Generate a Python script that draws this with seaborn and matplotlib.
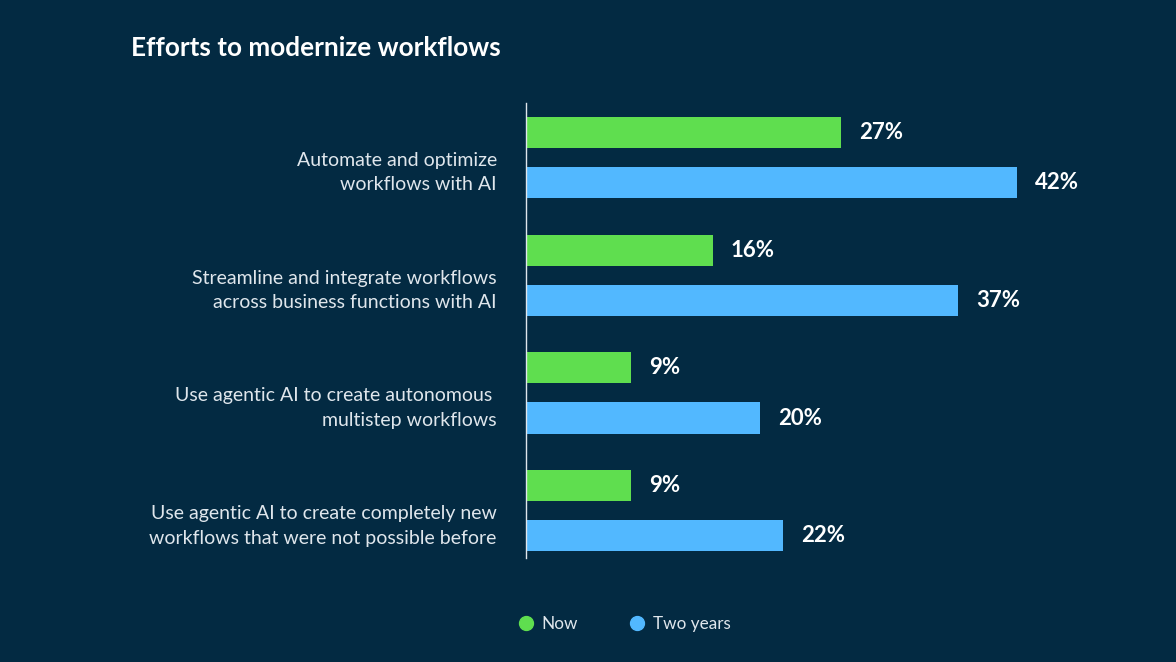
import pandas as pd
import seaborn as sns
import matplotlib.pyplot as plt
from matplotlib.lines import Line2D
from matplotlib.transforms import ScaledTranslation

# chart values
categories = [
    "Automate and optimize\nworkflows with AI",
    "Streamline and integrate workflows\nacross business functions with AI",
    "Use agentic AI to create autonomous \nmultistep workflows",
    "Use agentic AI to create completely new\nworkflows that were not possible before",
]
now = [27, 16, 9, 9]
two_years = [42, 37, 20, 22]
series = ["Now", "Two years"]

bg = "#032a42"
green = "#5fde4f"
blue = "#52b8ff"

df = pd.DataFrame({
    "category": categories * 2,
    "value": now + two_years,
    "series": [series[0]] * 4 + [series[1]] * 4,
})

sns.set_theme(style="white")
plt.rcParams["font.family"] = ["Lato", "DejaVu Sans"]

fig = plt.figure(figsize=(11.76, 6.62), dpi=100, facecolor=bg)
ax = fig.add_axes([0.4473, 0.1571, 0.5017, 0.6873])
ax.set_facecolor(bg)

sns.barplot(data=df, y="category", x="value", hue="series", orient="h",
            palette=[green, blue], saturation=1, width=0.85, gap=0.38,
            linewidth=0, ax=ax, legend=False)

for cont in ax.containers:
    ax.bar_label(cont, labels=[f"{int(v)}%" for v in cont.datavalues],
                 padding=13, color="white", fontsize=16, fontweight="bold")

ax.set_xlim(0, 50.5)
ax.set_ylim(3.40, -0.46)
ax.set_xlabel("")
ax.set_ylabel("")
ax.set_xticks([])
ax.tick_params(axis="y", length=0, pad=21, labelsize=14, labelcolor="#dfe6ec")
# labels sit a little below the middle of each bar pair
shift = ScaledTranslation(0, -10 / 100, fig.dpi_scale_trans)
for lbl in ax.get_yticklabels():
    lbl.set_linespacing(1.55)
    lbl.set_transform(lbl.get_transform() + shift)
for side in ["top", "right", "bottom"]:
    ax.spines[side].set_visible(False)
ax.spines["left"].set_color("#dfe6ec")
ax.spines["left"].set_linewidth(1)

fig.text(131 / 1176, 1 - 48 / 662, "Efforts to modernize workflows",
         color="white", fontsize=18.8, fontweight="bold", va="center", ha="left")

handles = [Line2D([0], [0], marker="o", linestyle="", markersize=10,
                  markerfacecolor=c, markeredgecolor=c) for c in (green, blue)]
fig.legend(handles, series, loc="center left", bbox_to_anchor=(500 / 1176, 1 - 624 / 662),
           ncol=2, frameon=False, fontsize=12.3, labelcolor="#dfe6ec",
           handlelength=1.2, handletextpad=0.3, columnspacing=2.9)

fig.savefig("out.png", dpi=100, facecolor=bg)
